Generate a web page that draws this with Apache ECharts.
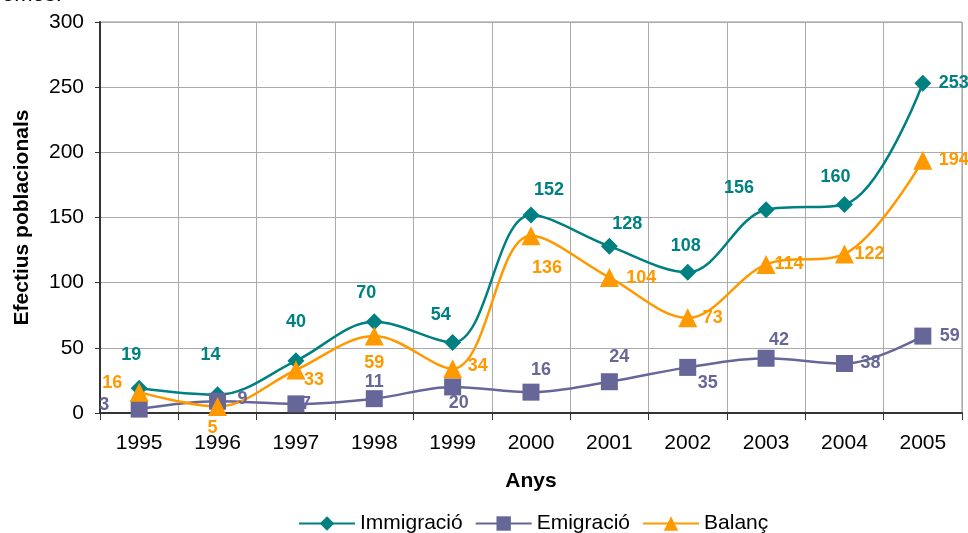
<!DOCTYPE html>
<html>
<head>
<meta charset="utf-8">
<script src="https://cdn.jsdelivr.net/npm/echarts@6/dist/echarts.min.js"></script>
<style>
  html, body { margin: 0; padding: 0; background: #fff; }
  #main { width: 968px; height: 533px; }
</style>
</head>
<body>
<div id="main"></div>
<script>
// dades
var anys = ['1995', '1996', '1997', '1998', '1999', '2000', '2001', '2002', '2003', '2004', '2005'];
var immigracio = [19, 14, 40, 70, 54, 152, 128, 108, 156, 160, 253];
var emigracio = [3, 9, 7, 11, 20, 16, 24, 35, 42, 38, 59];
var balanc = [16, 5, 33, 59, 34, 136, 104, 73, 114, 122, 194];

// desplaçament de les etiquetes (com a l'original d'Excel)
var offImm = [[-8, -33], [-7, -40], [0, -39], [-8, -29], [-12, -28], [18, -25], [18, -22], [-2, -26], [-27, -22], [-9, -27], [31, 0]];
var offEmi = [[-35, -4], [25, -2], [10, 0], [0, -17], [6, 16], [10, -22], [10, -25], [20, 16], [13, -18], [26, 0], [27, 0]];
var offBal = [[-27, -9], [-5, 22], [18, 10], [0, 27], [25, -3], [16, 32], [32, 1], [25, 0], [23, 0], [25, 0], [31, 0]];

var myChart = echarts.init(document.getElementById('main'));

function punts(valors, offs) {
    return valors.map(function (v, i) {
        return { value: v, label: { offset: offs[i] } };
    });
}

function serie(nom, color, simbol, mida, valors, offs) {
    return {
        name: nom,
        type: 'line',
        smooth: 0.35,
        symbol: simbol,
        symbolSize: mida,
        showAllSymbol: true,
        lineStyle: { color: color, width: 2.5 },
        itemStyle: { color: color },
        label: {
            show: true,
            position: 'inside',
            color: color,
            fontFamily: 'Liberation Sans',
            fontWeight: 'bold',
            fontSize: 18
        },
        data: punts(valors, offs),
        z: 3
    };
}

var option = {
    animation: false,
    textStyle: { fontFamily: 'Liberation Sans' },
    title: {
        text: 'emes.',
        left: -3,
        top: -21,
        textStyle: { fontSize: 22, fontWeight: 'normal', color: '#000', fontFamily: 'Liberation Sans' }
    },
    legend: {
        bottom: -6,
        left: 293,
        itemWidth: 56,
        itemHeight: 18,
        itemGap: 12,
        textStyle: { fontSize: 21, color: '#000', fontFamily: 'Liberation Sans' },
        data: ['Immigració', 'Emigració', 'Balanç']
    },
    grid: {
        left: 100,
        right: 6,
        top: 22,
        bottom: 120,
        show: true,
        borderColor: '#999',
        borderWidth: 1
    },
    xAxis: {
        type: 'category',
        data: anys,
        name: 'Anys',
        nameLocation: 'middle',
        nameGap: 58,
        nameTextStyle: { fontSize: 21, fontWeight: 'bold', color: '#000' },
        axisLine: { lineStyle: { color: '#333', width: 2 } },
        axisTick: { show: true, length: 7, lineStyle: { color: '#333' } },
        axisLabel: { fontSize: 21, color: '#000', margin: 20 },
        splitLine: { show: true, lineStyle: { color: '#aaa', width: 1 } }
    },
    yAxis: {
        type: 'value',
        min: 0,
        max: 300,
        interval: 50,
        name: 'Efectius poblacionals',
        nameLocation: 'middle',
        nameGap: 67,
        nameTextStyle: { fontSize: 21, fontWeight: 'bold', color: '#000' },
        axisLine: { show: true, lineStyle: { color: '#333', width: 2 } },
        axisTick: { show: true, length: 5, lineStyle: { color: '#333' } },
        axisLabel: { fontSize: 21, color: '#000', margin: 16 },
        splitLine: { show: true, lineStyle: { color: '#aaa', width: 1 } }
    },
    series: [
        serie('Immigració', '#008080', 'diamond', 17, immigracio, offImm),
        serie('Emigració', '#666699', 'rect', 17, emigracio, offEmi),
        serie('Balanç', '#FF9900', 'triangle', 19, balanc, offBal)
    ]
};

myChart.setOption(option);
</script>
</body>
</html>
